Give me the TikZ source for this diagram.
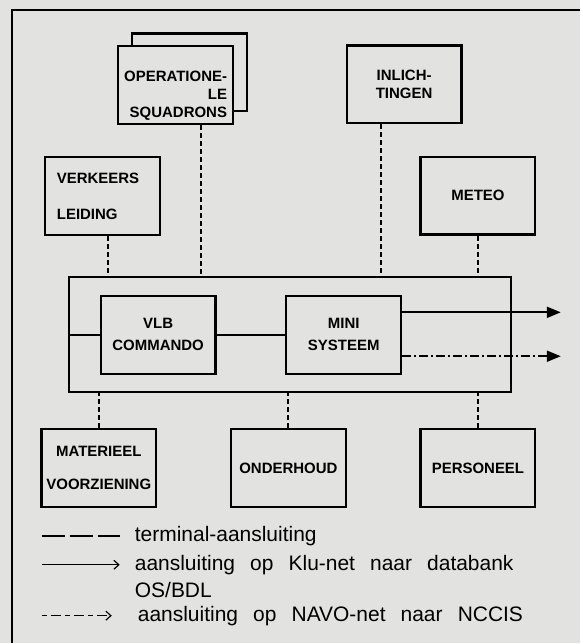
\documentclass[tikz,border=0pt]{standalone}
\usepackage{fontspec}
\setmainfont{Liberation Sans}
\newfontfamily\legendfont{Liberation Sans}[WordSpace=2.6]
\usetikzlibrary{arrows.meta}
\definecolor{paper}{RGB}{226,226,224}

\begin{document}
\begin{tikzpicture}
			[x=1pt,y=-1pt,
			unit/.style={rectangle, draw, line width=2.2pt, minimum width=115pt, minimum height=78pt, inner sep=0pt, align=center, font=\fontsize{15}{18}\selectfont\bfseries},
			terminal/.style={line width=2pt, dash pattern=on 5pt off 3pt},
			klunet/.style={line width=2pt, -{Triangle[length=14pt,width=11pt]}},
			navonet/.style={line width=2pt, dash pattern=on 9pt off 3pt on 2pt off 3pt, -{Triangle[length=14pt,width=11pt]}},
			legend/.style={anchor=base west, align=left, inner sep=0pt, font=\legendfont\fontsize{21}{27}\selectfont}]
			\fill[paper] (0,0) rectangle (581,644);
			\draw[line width=2.8pt] (12,644) |- (581,10);

			\node[unit] (opsback) at (190,72.5) {};
			\node[unit, fill=paper, align=right, text height=67pt] (ops) at (176,85.5) {OPERATIONE-\\LE\\SQUADRONS};
			\node[unit] (inl) at (405,84.5) {INLICH-\\TINGEN};
			\node[unit, align=left, text width=92pt] (verk) at (103,196.5) {VERKEERS\\[18pt]LEIDING};
			\node[unit] (meteo) at (479,196) {METEO};
			\node[unit, minimum width=443pt, minimum height=115pt] (vlbsys) at (290.5,335.5) {};
			\node[unit] (vlb) at (158.5,335.5) {VLB\\[4pt]COMMANDO};
			\node[unit] (mini) at (344.5,335.5) {MINI\\[4pt]SYSTEEM};
			\node[unit] (mat) at (99,469) {MATERIEEL\\[15pt]VOORZIENING};
			\node[unit] (ond) at (289,469) {ONDERHOUD};
			\node[unit] (pers) at (479,469) {PERSONEEL};
			\coordinate (klu) at (562,313);
			\coordinate (navo) at (562,357);

			\foreach \from/\to in {ops.-58/vlbsys.north,verk.-83/vlbsys.north,inl.-120/vlbsys.north,meteo.south/vlbsys.north,mat.north/vlbsys.south,ond.north/vlbsys.south,pers.north/vlbsys.south}
			\draw[terminal] (\from) -- (\from |- \to);
			\draw[line width=2pt] (vlbsys.west |- vlb.west) -- (vlb.west);
			\draw[line width=2pt] (vlb.east) -- (mini.west);
			\draw[klunet] (mini.east |- klu) -- (klu);
			\draw[navonet] (mini.east |- navo) -- (navo);

			% legenda
			\node[legend] (leg1) at (135,543) {terminal-aansluiting};
			\node[legend] (leg2) at (135,599) {aansluiting op Klu-net naar databank\\OS/BDL};
			\node[legend] (leg3) at (138,623) {aansluiting op NAVO-net naar NCCIS};
			\draw[line width=2pt, dash pattern=on 23pt off 5pt] ([xshift=-93pt,yshift=6pt]leg1.base west) -- ++(78,0);
			\draw[line width=1.2pt, -{Straight Barb[length=5pt,width=9pt]}] ([xshift=-93pt,yshift=33pt]leg2.base west) -- ++(78,0);
			\draw[line width=1.2pt, dash pattern=on 5pt off 4pt on 10pt off 4pt, -{Straight Barb[length=5pt,width=9pt]}] ([xshift=-96pt,yshift=6pt]leg3.base west) -- ++(70,0);
\end{tikzpicture}
\end{document}
